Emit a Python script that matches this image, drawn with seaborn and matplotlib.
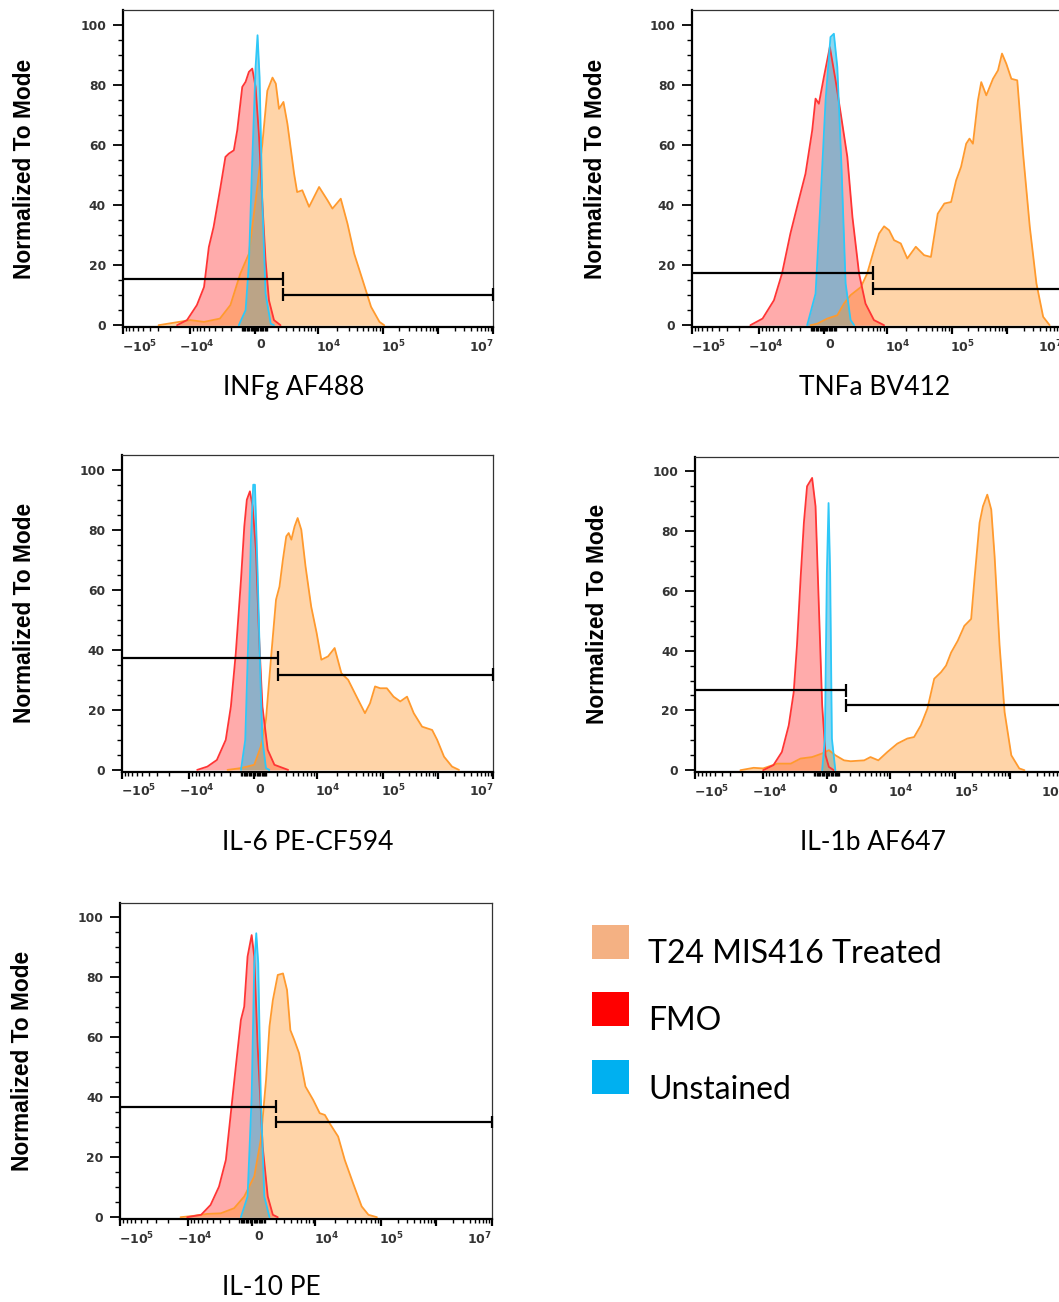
import numpy as np
import pandas as pd
import seaborn as sns
import matplotlib
matplotlib.use("Agg")
import matplotlib.pyplot as plt
from matplotlib import transforms as mtransforms
from matplotlib import font_manager
from matplotlib.ticker import FixedLocator, FixedFormatter, MultipleLocator
from matplotlib.patches import Rectangle

# ---------------------------------------------------------------- data
panel_titles = ["INFg AF488", "TNFa BV412", "IL-6 PE-CF594", "IL-1b AF647", "IL-10 PE"]
series_names = ["T24 MIS416 Treated", "FMO", "Unstained"]

# INFg AF488
infg_treated_x = [-29600, -10000, -6100, -3300, -2050, -1120, -430, 210, 600, 1020, 1480, 1800, 2130, 2640, 3150,
                  4150, 4680, 5700, 7350, 10570, 14250, 17000, 22800, 28900, 36600, 49200, 66200, 89000, 106000]
infg_treated_y = [0, 1.7, 1.1, 2.2, 6.7, 17.2, 23.8, 46, 60, 78, 82.4, 80.4, 72, 74.3, 67,
                  50.4, 44.3, 44.9, 39.4, 46, 41.6, 38.8, 42.1, 33.8, 23.8, 15, 6.1, 1.1, 0]
infg_fmo_x = [-15770, -11200, -7900, -6100, -5100, -4250, -3220, -2600, -2220, -1710, -1390, -960, -690, -432,
              -175, 78, 335, 600, 870, 1160, 1620, 2300]
infg_fmo_y = [0, 1.7, 6.7, 12.7, 26, 32.7, 46, 56, 57.1, 58.2, 64.9, 79.3, 81, 84.3,
              85.4, 79.3, 63.7, 41.6, 21.6, 8.3, 1.7, 0]
infg_unst_x = [-1250, -690, -432, -175, 78, 230, 390, 600, 870, 1320, 1620]
infg_unst_y = [0, 5, 20.5, 54.9, 85.9, 96.5, 82.6, 41.6, 10.5, 0.5, 0]

# TNFa BV412
tnfa_treated_x = [-1010, -480, 290, 1105, 1720, 2420, 3800, 4870, 6300, 7620, 9150, 10960, 13090, 16600, 20900,
                  28200, 37800, 48000, 61000, 77000, 97500, 119700, 147000, 182000, 209000, 241000, 297000,
                  341000, 421000, 556000, 685000, 810000, 970000, 1197000, 1530000, 1950000, 2580000, 3400000,
                  4500000, 5900000]
tnfa_treated_y = [0, 0.5, 2.2, 3.3, 7.2, 10, 12.7, 17.2, 25, 30.5, 32.9, 31.6, 28.3, 27.2, 22.2,
                  26.1, 23.3, 22.7, 37.1, 40.5, 41, 48.2, 52.7, 60.4, 62.1, 60.4, 74.8,
                  80.9, 76.5, 82, 84.8, 90.4, 87, 82, 81.5, 57.1, 32.7, 13.9,
                  2.8, 0]
tnfa_fmo_x = [-13600, -8900, -5900, -4350, -3100, -2120, -1460, -880, -615, -357, 25, 490, 955, 1410, 2060,
              2640, 3520, 4560, 6300, 9150]
tnfa_fmo_y = [0, 2.2, 8.3, 17.2, 30.5, 41.6, 50.4, 64.9, 75.4, 73.7, 82.6, 92.6, 81.5, 70.4, 56,
              36, 17.2, 7.2, 1.7, 0]
tnfa_unst_x = [-1310, -615, -228, 155, 540, 815, 1105, 1480, 1880, 2420, 2850]
tnfa_unst_y = [0, 10.5, 41.6, 74.8, 95.9, 97, 85.9, 52.7, 13.9, 1.7, 0]

# IL-6 PE-CF594
il6_treated_x = [-2280, -1010, 25, 540, 955, 1410, 1880, 2250, 2640, 3070, 3400, 3800, 4320, 4870, 5600, 6560,
                 8080, 9850, 11650, 14760, 18650, 23650, 30000, 40300, 54100, 64600, 77000, 92000, 119700,
                 158000, 209000, 277000, 366000, 518000, 787000, 970000, 1290000, 1800000, 2400000]
il6_treated_y = [0, 0.6, 1.7, 7.8, 16.7, 37.8, 56.7, 61.1, 70, 77.8, 78.9, 76.7, 81.1, 83.9, 80, 67.8,
                 54.4, 45.6, 36.7, 37.8, 40.6, 32.2, 30, 24.4, 18.9, 22.2, 27.8, 27.2, 27.2,
                 24.4, 22.8, 24.4, 18.9, 14.4, 13.3, 10, 4.4, 1.1, 0]
il6_fmo_x = [-7600, -5240, -3630, -2480, -1930, -1460, -1010, -740, -540, -305, -100, 155, 410, 665, 1105,
             1720, 3320]
il6_fmo_y = [0, 1.1, 3.3, 10, 21.1, 38.9, 63.3, 81.1, 90, 92.8, 87.8, 73.3, 43.3, 21.1, 6.7, 1.7, 0]
il6_unst_x = [-1010, -665, -432, -228, -53, 78, 285, 490, 665, 955, 1250]
il6_unst_y = [0, 10, 43.3, 76.7, 95, 95, 65.6, 32.2, 10, 0.6, 0]

# IL-1b AF647
il1b_treated_x = [-21400, -13600, -9800, -5900, -3500, -2280, -1165, -357, 155, 665, 1410, 2060, 3800, 4870,
                  6560, 9150, 13090, 18650, 23650, 30000, 37800, 48000, 61000, 72700, 87000, 111500, 147000,
                  195000, 224000, 277000, 319000, 382000, 451000, 518000, 638000, 787000, 1040000, 1450000,
                  1800000]
il1b_treated_y = [0, 0.8, 0.6, 2.2, 2.2, 3.9, 4.4, 5.6, 6.7, 5, 3.3, 3, 3.3, 4.4,
                  3.3, 6.1, 8.9, 10.6, 11.1, 15, 20.6, 30.6, 32.8, 35, 39.4, 43.3, 48.3,
                  50.6, 63.9, 82.8, 88.3, 92.2, 87.2, 71.7, 41.7, 19.4, 5, 0.6,
                  0]
il1b_fmo_x = [-9800, -6780, -4960, -3800, -3100, -2690, -2280, -1930, -1620, -1165, -880, -615, -357, -100,
              155, 540]
il1b_fmo_y = [0, 1.7, 6.1, 15, 26.1, 41.7, 63.9, 82.8, 95, 97.8, 88.3, 55, 21.7, 5, 1.1, 0]
il1b_unst_x = [-357, -150, 0, 130, 255, 390, 665]
il1b_unst_y = [0, 10.6, 66, 89.4, 66, 10.6, 0]

# IL-10 PE
il10_treated_x = [-12840, -8470, -4940, -2870, -1460, -615, 155, 665, 1105, 1410, 1730, 2240, 2860, 3400,
                  3900, 4560, 5480, 6950, 9230, 11650, 14000, 16600, 22350, 28200, 37800, 51000, 64700, 87000]
il10_treated_y = [0, 0.4, 1.1, 1.3, 3, 6.9, 13.6, 25.8, 45.8, 63.6, 72.4, 80.8, 81.3, 75.8,
                  62.4, 59.1, 54.7, 43.6, 39.1, 34.7, 34.1, 31.3, 26.9, 19.1, 11.3, 3.6, 0.8, 0]
il10_fmo_x = [-10200, -6200, -4350, -3100, -2280, -1770, -1310, -880, -615, -357, -45, 155, 420, 820, 1255,
              1730, 2240]
il10_fmo_y = [0, 0.8, 4.1, 10.2, 19.1, 34.7, 50.2, 65.8, 70.2, 86.9, 94.1, 86.9, 56.9, 23.6, 6.9, 0.8, 0]
il10_unst_x = [-880, -357, -45, 155, 310, 465, 665, 955, 1410]
il10_unst_y = [0, 6.9, 40.2, 84.7, 94.7, 84.7, 40.2, 6.9, 0]

# gates (split position, upper bar level, lower bar level)
gate_split = [2600, 6100, 2130, 1560, 2070]
gate_upper_y = [15.5, 17.5, 37.2, 26.7, 36.9]
gate_lower_y = [10.2, 12.2, 31.7, 21.7, 31.7]

x_tick_values = [-1e5, -1e4, 0, 1e4, 1e5, 1e6, 1e7]
x_tick_labels = [r"$-10^{5}$", r"$-10^{4}$", "0", r"$10^{4}$", r"$10^{5}$", "", r"$10^{7}$"]
y_tick_values = [0, 20, 40, 60, 80, 100]
y_tick_labels = ["0", "20", "40", "60", "80", "100"]

panels = [
    [(infg_treated_x, infg_treated_y), (infg_fmo_x, infg_fmo_y), (infg_unst_x, infg_unst_y)],
    [(tnfa_treated_x, tnfa_treated_y), (tnfa_fmo_x, tnfa_fmo_y), (tnfa_unst_x, tnfa_unst_y)],
    [(il6_treated_x, il6_treated_y), (il6_fmo_x, il6_fmo_y), (il6_unst_x, il6_unst_y)],
    [(il1b_treated_x, il1b_treated_y), (il1b_fmo_x, il1b_fmo_y), (il1b_unst_x, il1b_unst_y)],
    [(il10_treated_x, il10_treated_y), (il10_fmo_x, il10_fmo_y), (il10_unst_x, il10_unst_y)],
]

# ---------------------------------------------------------------- style
sns.set_style("white")
available = {f.name for f in font_manager.fontManager.ttflist}
title_family = "Lato" if "Lato" in available else "DejaVu Sans"
if "Liberation Sans Narrow" in available:
    ylab_family, ylab_size = "Liberation Sans Narrow", 18.4
else:
    ylab_family, ylab_size = "Liberation Sans", 16.4
plt.rcParams["font.family"] = ["DejaVu Sans"]
plt.rcParams["font.weight"] = "bold"
plt.rcParams["mathtext.fontset"] = "dejavusans"
plt.rcParams["mathtext.default"] = "bf"

fill_colors = ["#FF9426", "#FF0000", "#33B5E0"]
fill_alphas = [0.40, 0.33, 0.55]
line_colors = ["#FF9A2E", "#FF3535", "#2EC8F8"]
legend_colors = ["#F4B183", "#FF0000", "#00B0F0"]

# biexponential-like display scale
C = 2188.0
X_anch = np.array([-1e7, -1e5, -1e4, 0, 1e4, 1e5, 1e6, 1e7, 1e9])
P_anch = np.array([-265.9, -131.3, -64.0, 0.0, 62.7, 127.7, 182.7, 237.7, 347.7])
S_anch = np.arcsinh(X_anch / C)


def fwd(x):
    return np.interp(np.arcsinh(np.asarray(x, dtype=float) / C), S_anch, P_anch)


def inv(p):
    return C * np.sinh(np.interp(np.asarray(p, dtype=float), P_anch, S_anch))


minor_x = []
for k in [2, 3, 4]:
    for m in range(1, 10):
        v = -m * 10.0 ** k
        if v not in x_tick_values:
            minor_x.append(v)
for k in [2, 3, 4, 5, 6]:
    for m in range(1, 10):
        v = m * 10.0 ** k
        if v not in x_tick_values:
            minor_x.append(v)

W, H = 1059, 1302
fig = plt.figure(figsize=(W / 100, H / 100), dpi=100)
fig.patch.set_facecolor("white")
pix = mtransforms.Affine2D().scale(1.0 / W, -1.0 / H).translate(0, 1) + fig.transFigure

# layout in pixels: left, top, width, height
boxes = [(122.7, 10, 370.6, 317), (691.7, 10, 370.6, 317), (121.7, 455, 371.6, 316.7),
         (695, 456.7, 370.6, 315.3), (120, 902.7, 371.7, 316.3)]
xlabel_pos = [(293.5, 395), (875, 395), (308, 850), (872.5, 850), (271.7, 1295)]
ylabel_x = [25, 595, 25, 597, 23]
label_dx = [17, 7, 6, 11, 11, 0, -12]

for i, (l, t, w, h) in enumerate(boxes):
    ax = fig.add_axes([l / W, 1 - (t + h) / H, w / W, h / H])
    ax.set_xscale("function", functions=(fwd, inv))

    order_fill = [1, 2, 0]
    for z, s in enumerate(order_fill):
        xs, ys = panels[i][s]
        ax.fill_between(xs, ys, 0, color=fill_colors[s], alpha=fill_alphas[s], linewidth=0, zorder=1 + z)
    for z, s in enumerate([0, 1, 2]):
        xs, ys = panels[i][s]
        df = pd.DataFrame({"x": xs, "y": ys})
        sns.lineplot(data=df, x="x", y="y", ax=ax, color=line_colors[s], linewidth=1.3,
                     sort=False, estimator=None, legend=False, zorder=5 + z)

    # gates
    g, yu, yl = gate_split[i], gate_upper_y[i], gate_lower_y[i]
    ax.plot([-1e5, g], [yu, yu], color="black", lw=1.6, solid_capstyle="butt", zorder=10, clip_on=False)
    ax.plot([g, 1e7], [yl, yl], color="black", lw=1.6, solid_capstyle="butt", zorder=10, clip_on=False)
    ax.vlines([g], yu - 2.3, yu + 2.3, color="black", lw=1.6, zorder=10, clip_on=False)
    ax.vlines([g, 1e7], yl - 2.1, yl + 2.1, color="black", lw=1.6, zorder=10, clip_on=False)

    ax.set_xlim(-1e5, 1e7)
    ax.set_ylim(-0.6, 104.9)

    ax.xaxis.set_major_locator(FixedLocator(x_tick_values))
    ax.xaxis.set_major_formatter(FixedFormatter(x_tick_labels))
    ax.xaxis.set_minor_locator(FixedLocator(minor_x))
    ax.yaxis.set_major_locator(FixedLocator(y_tick_values))
    ax.yaxis.set_major_formatter(FixedFormatter(y_tick_labels))
    ax.yaxis.set_minor_locator(MultipleLocator(5))

    ax.tick_params(axis="x", which="both", bottom=True, top=False)
    ax.tick_params(axis="y", which="both", left=True, right=False)
    ax.tick_params(axis="x", which="major", direction="out", length=5.2, width=1.6, pad=3,
                   labelsize=9, labelcolor="#333333", color="black")
    ax.tick_params(axis="x", which="minor", direction="out", length=2.8, width=1.0, color="black")
    ax.tick_params(axis="y", which="major", direction="out", length=7.5, width=1.3, pad=4.5,
                   labelsize=8.8, labelcolor="#333333", color="black")
    ax.tick_params(axis="y", which="minor", direction="out", length=3.5, width=1.0, color="black")

    for tick, dx in zip(ax.xaxis.get_major_ticks(), label_dx):
        tick.label1.set_transform(tick.label1.get_transform() +
                                  mtransforms.ScaledTranslation(dx / 100, 0, fig.dpi_scale_trans))

    for side in ["left", "bottom"]:
        ax.spines[side].set_linewidth(1.6)
        ax.spines[side].set_color("black")
    for side in ["top", "right"]:
        ax.spines[side].set_linewidth(0.9)
        ax.spines[side].set_color("#333333")

    ax.set_xlabel(panel_titles[i], fontsize=19, family=title_family, fontweight="normal", color="black")
    ax.xaxis.set_label_coords(xlabel_pos[i][0], xlabel_pos[i][1], transform=pix)
    ax.xaxis.label.set_va("baseline")
    ax.xaxis.label.set_ha("center")

    ax.set_ylabel("Normalized To Mode", fontsize=ylab_size, family=ylab_family, fontweight="bold",
                  color="black", rotation=90)
    ax.yaxis.set_label_coords(ylabel_x[i], t + h / 2, transform=pix)
    ax.yaxis.label.set_va("center")
    ax.yaxis.label.set_ha("center")

# legend (manual squares + labels)
leg_tops = [925, 992, 1060]
leg_base = [963.3, 1030, 1099]
for name, col, top, base in zip(series_names, legend_colors, leg_tops, leg_base):
    fig.add_artist(Rectangle((591.7, top), 37.3, 34, transform=pix, facecolor=col, edgecolor="none"))
    fig.text(648, base, name, transform=pix, fontsize=23, family=title_family, fontweight="normal",
             ha="left", va="baseline", color="black")

fig.savefig("out.png", dpi=100)
